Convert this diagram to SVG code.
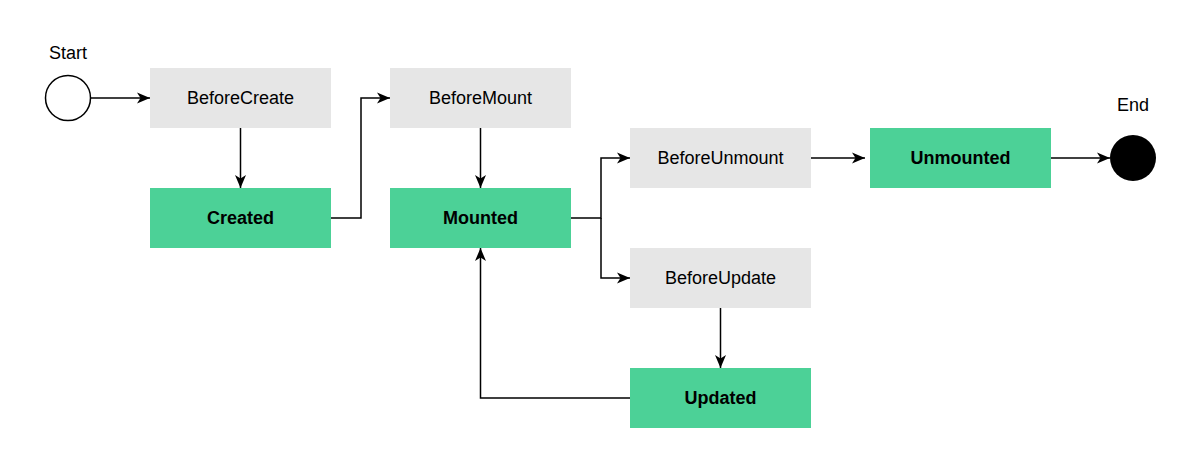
<svg xmlns="http://www.w3.org/2000/svg" width="1194" height="459" viewBox="0 0 1194 459">
<defs>
<style>
.t{font-family:"Liberation Sans",Arial,sans-serif;font-size:18px;fill:#000;text-anchor:middle;dominant-baseline:central}
.b{font-weight:bold}
.g{fill:#E6E6E6}
.gr{fill:#4CD197}
.e{fill:none;stroke:#000;stroke-width:1.5;marker-end:url(#a)}
</style>
<marker id="a" markerUnits="userSpaceOnUse" markerWidth="14" markerHeight="12" viewBox="0 0 14 12" refX="13" refY="6" orient="auto">
<path d="M0,0.5 L13,6 L0,11.5 L3.5,6 Z" fill="#000"/>
</marker>
</defs>
<rect width="1194" height="459" fill="#fff"/>
<g id="connectors">
<path class="e" d="M91,98 H150"/>
<path class="e" d="M240.5,128 V188"/>
<path class="e" d="M331,218 H361 V98 H390"/>
<path class="e" d="M480.5,128 V188"/>
<path class="e" d="M571,218 H601 V158 H630"/>
<path class="e" d="M601,218 V278 H630"/>
<path class="e" d="M811,158 H865"/>
<path class="e" d="M1051,158 H1110"/>
<path class="e" d="M720.5,308 V368"/>
<path class="e" d="M630,398 H480.5 V248"/>
</g>
<g id="start">
<circle cx="68" cy="98" r="22.5" fill="#fff" stroke="#000" stroke-width="1.5"/>
<text class="t" x="68" y="53">Start</text>
</g>
<g id="beforeCreate"><rect class="g" x="150" y="68" width="181" height="60"/><text class="t" x="240.5" y="98">BeforeCreate</text></g>
<g id="created"><rect class="gr" x="150" y="188" width="181" height="60"/><text class="t b" x="240.5" y="218">Created</text></g>
<g id="beforeMount"><rect class="g" x="390" y="68" width="181" height="60"/><text class="t" x="480.5" y="98">BeforeMount</text></g>
<g id="mounted"><rect class="gr" x="390" y="188" width="181" height="60"/><text class="t b" x="480.5" y="218">Mounted</text></g>
<g id="beforeUnmount"><rect class="g" x="630" y="128" width="181" height="60"/><text class="t" x="720.5" y="158">BeforeUnmount</text></g>
<g id="unmounted"><rect class="gr" x="870" y="128" width="181" height="60"/><text class="t b" x="960.5" y="158">Unmounted</text></g>
<g id="beforeUpdate"><rect class="g" x="630" y="248" width="181" height="60"/><text class="t" x="720.5" y="278">BeforeUpdate</text></g>
<g id="updated"><rect class="gr" x="630" y="368" width="181" height="60"/><text class="t b" x="720.5" y="398">Updated</text></g>
<g id="end">
<circle cx="1133" cy="158" r="23" fill="#000"/>
<text class="t" x="1133" y="105">End</text>
</g>
</svg>
